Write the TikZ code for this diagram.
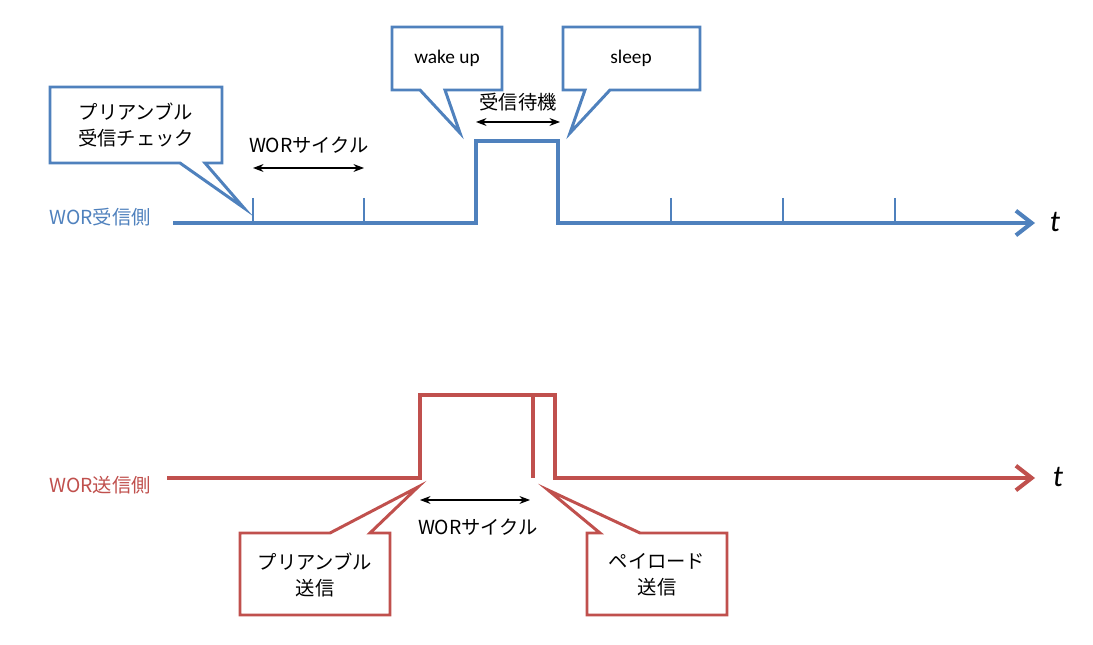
\documentclass[tikz,border=0pt]{standalone}
\usepackage{fontspec}
\setmainfont{Noto Sans CJK JP}
\newfontfamily\latin{Carlito}
\usetikzlibrary{arrows.meta}
\definecolor{rxblue}{RGB}{79,129,189}
\definecolor{txred}{RGB}{192,80,77}
\tikzset{
  sig/.style={line width=2.3pt},
  bubble/.style={line width=1.7pt,fill=white,line join=miter},
  span/.style={{Stealth[length=6pt]}-{Stealth[length=6pt]},semithick},
  lbl/.style={font=\fontsize{11}{15}\selectfont,align=center,inner sep=1pt},
  tip/.style={-{Straight Barb[length=9pt,width=14pt,line width=2.3pt]}}
}
\begin{document}
\begin{tikzpicture}[x=0.02cm,y=-0.02cm]
  \useasboundingbox (0,0) rectangle (1093,645);
  % receiver side
  \node[lbl,text=rxblue,anchor=east] (rx) at (153,217) {WOR受信側};
  \draw[sig,rxblue,tip] (173,223) -- (476,223) -- (476,141)
      -- (558,141) -- (558,223) -- (1035,223);
  \foreach \x in {253,364,671,783,895}
    \draw[rxblue,line width=1pt] (\x,198) -- (\x,223);
  \node[lbl,font=\LARGE\itshape\latin] (t1) at (1055,222) {t};
  \draw[bubble,draw=rxblue] (50,87) -- (222,87) -- (222,163) -- (205,163) -- (244,208)
      -- (180,163) -- (50,163) -- cycle;
  \node[lbl] (chk) at (136,125) {プリアンブル\\受信チェック};
  \draw[bubble,draw=rxblue] (392,27) -- (502,27) -- (502,90) -- (445,90) -- (460,133)
      -- (420,90) -- (392,90) -- cycle;
  \node[lbl] (wake) at (447,58) {\latin wake up};
  \draw[bubble,draw=rxblue] (563,27) -- (700,27) -- (700,90) -- (610,90) -- (570,133)
      -- (585,90) -- (563,90) -- cycle;
  \node[lbl] (slp) at (631,58) {\latin sleep};
  \coordinate (c1) at (253,168);
  \coordinate (c2) at (364,168);
  \draw[span] (c1) -- (c2);
  \node[lbl] (cyc1) at (309,145) {WORサイクル};
  \coordinate (w1) at (476,122);
  \coordinate (w2) at (560,122);
  \draw[span] (w1) -- (w2);
  \node[lbl] (wait) at (518,102) {受信待機};
  % sender side
  \node[lbl,text=txred,anchor=east] (tx) at (153,485) {WOR送信側};
  \draw[sig,txred,tip] (167,478) -- (420,478) -- (420,395)
      -- (555,395) -- (555,478) -- (1035,478);
  \draw[sig,txred] (533,395) -- (533,478);
  \node[lbl,font=\LARGE\itshape\latin] (t2) at (1058,477) {t};
  \draw[bubble,draw=txred] (240,533) -- (330,533) -- (418,487) -- (370,533) -- (390,533)
      -- (390,615) -- (240,615) -- cycle;
  \node[lbl] (pre) at (315,575) {プリアンブル\\送信};
  \draw[bubble,draw=txred] (587,533) -- (600,533) -- (548,490) -- (640,533) -- (727,533)
      -- (727,615) -- (587,615) -- cycle;
  \node[lbl] (pay) at (657,575) {ペイロード\\送信};
  \coordinate (d1) at (420,500);
  \coordinate (d2) at (530,500);
  \draw[span] (d1) -- (d2);
  \node[lbl] (cyc2) at (478,527) {WORサイクル};
\end{tikzpicture}
\end{document}
